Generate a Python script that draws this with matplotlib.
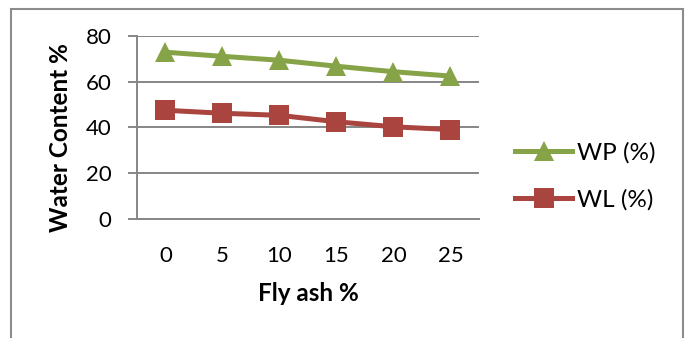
import numpy as np
import matplotlib.pyplot as plt
from matplotlib.patches import Rectangle

# fly ash content (%) and water content of the mix
fly_ash = ['0', '5', '10', '15', '20', '25']
wp = [72.8, 71.0, 69.3, 66.7, 64.3, 62.4]
wl = [47.5, 46.2, 45.3, 42.5, 40.3, 39.1]

plt.rcParams['font.family'] = ['Lato', 'DejaVu Sans']

fig = plt.figure(figsize=(6.86, 3.38), dpi=100)
ax = fig.add_axes([0.1997, 0.3512, 0.4985, 0.5432])

# outer chart frame
fig.patches.append(Rectangle((11 / 686, -0.1), 672 / 686, 1.1 - 9 / 338,
                             transform=fig.transFigure, fill=False,
                             edgecolor='#8c8c8c', linewidth=1.5))

x = np.arange(len(fly_ash))
ax.plot(x, wp, color='#86a447', lw=3.6, marker='^', ms=14.4, mew=0, label='WP (%)')
ax.plot(x, wl, color='#a9443f', lw=3.6, marker='s', ms=14.4, mew=0, label='WL (%)')

ax.set_xlim(-0.5, len(fly_ash) - 0.5)
ax.set_ylim(0, 80)
ax.set_yticks([0, 20, 40, 60, 80])
ax.set_xticks(x)
ax.set_xticklabels(fly_ash)
ax.grid(axis='y', color='#868686', lw=1.4)
ax.set_axisbelow(True)

for s in ['top', 'right']:
    ax.spines[s].set_visible(False)
for s in ['left', 'bottom']:
    ax.spines[s].set_color('#868686')
    ax.spines[s].set_linewidth(1.4)

ax.tick_params(axis='y', length=6.5, width=1.4, color='#868686', labelsize=16, pad=12)
ax.tick_params(axis='x', length=0, labelsize=16, pad=19)

ax.set_ylabel('Water Content %', fontsize=17.5, fontweight='bold')
ax.yaxis.set_label_coords(-0.19, 0.4455)
ax.set_xlabel('Fly ash %', fontsize=17.5, fontweight='bold')
ax.xaxis.set_label_coords(0.5, -0.34)

ax.legend(loc='upper left', bbox_to_anchor=(0.7507, 0.58), bbox_transform=fig.transFigure,
          frameon=False, fontsize=17.5, handlelength=2.35, handletextpad=0.2,
          labelspacing=1.05, borderpad=0, borderaxespad=0)

fig.savefig('out.png', dpi=100)
